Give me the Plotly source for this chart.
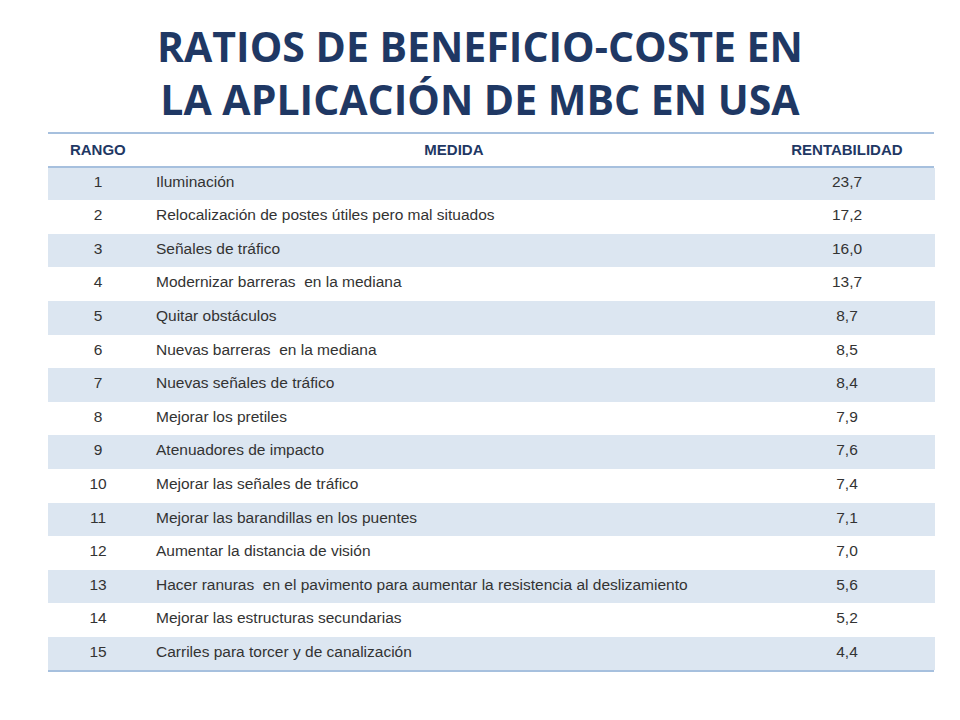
import plotly.graph_objects as go

rango = [str(i) for i in range(1, 16)]
medida = ["Iluminación", "Relocalización de postes útiles pero mal situados", "Señales de tráfico",
          "Modernizar barreras  en la mediana", "Quitar obstáculos", "Nuevas barreras  en la mediana",
          "Nuevas señales de tráfico", "Mejorar los pretiles", "Atenuadores de impacto",
          "Mejorar las señales de tráfico", "Mejorar las barandillas en los puentes",
          "Aumentar la distancia de visión",
          "Hacer ranuras  en el pavimento para aumentar la resistencia al deslizamiento",
          "Mejorar las estructuras secundarias", "Carriles para torcer y de canalización"]
rentabilidad = ["23,7", "17,2", "16,0", "13,7", "8,7", "8,5", "8,4", "7,9", "7,6", "7,4", "7,1", "7,0", "5,6", "5,2", "4,4"]
headers = ["<b>RANGO</b>", "<b>MEDIDA</b>", "<b>RENTABILIDAD</b>"]

W, H = 960, 720
OFF = 8
fills = ["#DCE6F1" if i % 2 == 0 else "#FFFFFF" for i in range(15)]
y0, y1 = 1 - (671 - OFF) / H, 1 - (133 - OFF) / H
xl, xr = (48 - OFF) / W, (934 - OFF) / W

fig = go.Figure(go.Table(
    domain=dict(x=[xl, xr], y=[y0, y1]),
    columnwidth=[100, 612, 174],
    header=dict(values=headers, fill_color="white", line_color="white", height=34,
                align=["center", "center", "center"],
                font=dict(family="Liberation Sans", size=15, color="#1F3864")),
    cells=dict(values=[rango, medida, rentabilidad], fill_color=[fills] * 3,
               line_color=[fills] * 3, height=33.6,
               align=["center", "left", "center"],
               font=dict(family="Liberation Sans", size=15.5, color="#333333")),
))

for yy in [133, 167, 671]:
    fig.add_shape(type="line", xref="paper", yref="paper", x0=xl, x1=xr,
                  y0=1 - (yy - OFF) / H, y1=1 - (yy - OFF) / H, line=dict(color="#4F81BD", width=1))

fig.add_annotation(text="RATIOS DE BENEFICIO-COSTE EN<br>LA APLICACIÓN DE MBC EN USA",
                   xref="paper", yref="paper", x=0.5 - OFF / W, y=1 - (72 - OFF) / H, showarrow=False,
                   font=dict(family="Open Sans", size=41, color="#1F3864", weight="bold"),
                   yanchor="middle")

fig.update_layout(width=W, height=H, margin=dict(l=0, r=0, t=0, b=0),
                  paper_bgcolor="white", plot_bgcolor="white")
fig.write_html("out.html")
